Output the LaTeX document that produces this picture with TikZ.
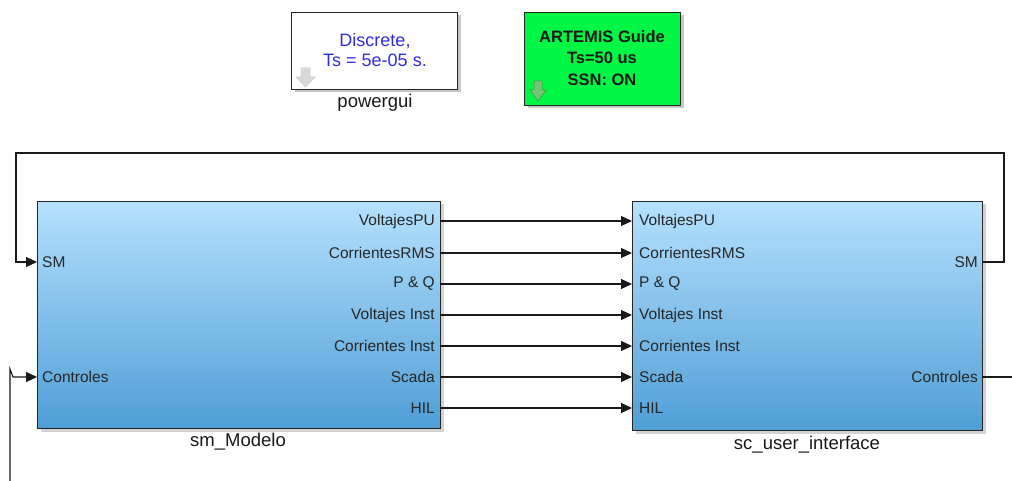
\documentclass[tikz,border=0pt]{standalone}
\usepackage{fontspec}
\setmainfont{Liberation Sans}
\usetikzlibrary{shadows,arrows.meta,calc}
\definecolor{blktop}{HTML}{B5E1FE}
\definecolor{blkbot}{HTML}{4F9ED6}
\definecolor{artgreen}{HTML}{00F745}
\definecolor{discblue}{HTML}{2E2EE6}
\tikzset{
  x=1pt, y=-1pt,
  blk/.style={draw=black!85, line width=1pt, top color=blktop, bottom color=blkbot,
    anchor=north west, inner sep=0pt,
    drop shadow={shadow xshift=3pt, shadow yshift=-3pt, opacity=0.35}},
  gui/.style={draw=black!85, line width=1pt, anchor=north west, inner sep=0pt,
    drop shadow={shadow xshift=3pt, shadow yshift=-3pt, opacity=0.45}},
  portl/.style={font=\fontsize{15.5}{17}\selectfont, text=black!85, inner sep=0pt},
  blkname/.style={font=\fontsize{18.5}{20}\selectfont, text=black!90, inner sep=0pt},
  sig/.style={line width=1.1pt, draw=black!90, -{Triangle[length=11pt,width=10pt]}},
  wire/.style={line width=1.1pt, draw=black!90},
}
\begin{document}
\begin{tikzpicture}
\useasboundingbox (0,0) rectangle (1012,481);
% powergui
\node[gui, fill=white, minimum width=166pt, minimum height=77pt] (pg) at (291,12) {};
\node[font=\fontsize{18}{20}\selectfont, text=discblue, align=center] (pgtxt) at (375,50) {Discrete,\\Ts = 5e-05 s.};
\node[blkname] (pglabel) at (375,103) {powergui};
\filldraw[draw=black!20, fill=black!15, line width=0.5pt] (301,68) -- (310,68) -- (310,77) -- (315,77) -- (305.5,87) -- (296,77) -- (301,77) -- cycle;
% ARTEMIS
\node[gui, fill=artgreen, minimum width=156pt, minimum height=93pt] (art) at (524,12) {};
\node[font=\bfseries\fontsize{16.5}{21.5}\selectfont, text=black!90, align=center] (arttxt) at (602,58) {ARTEMIS Guide\\Ts=50 us\\SSN: ON};
\filldraw[draw=green!50!black!80, fill=green!60!black!55!white, line width=0.5pt] (534,81) -- (542,81) -- (542,90) -- (546,90) -- (538,101) -- (530,90) -- (534,90) -- cycle;
% blocks
\node[blk, minimum width=403pt, minimum height=227pt] (sm) at (37,201) {};
\node[blk, minimum width=350pt, minimum height=229pt] (sc) at (632,201) {};
\node[blkname] (smname) at (238,442) {sm\_Modelo};
\node[blkname] (scname) at (807,445) {sc\_user\_interface};
% ports
\foreach \i/\y/\t in {1/221/VoltajesPU, 2/253/CorrientesRMS, 3/284/P \& Q, 4/315/Voltajes Inst, 5/346/Corrientes Inst, 6/377/Scada, 7/408/HIL}{
  \coordinate (so\i) at (440,\y);
  \coordinate (ci\i) at (632,\y);
  \node[portl, anchor=east] at (435,\y) {\t};
  \node[portl, anchor=west] at (639,\y) {\t};
  \draw[sig] (so\i) -- (ci\i);
}
\node[portl, anchor=west] at (42,262) {SM};
\node[portl, anchor=west] at (42,377) {Controles};
\node[portl, anchor=east] at (978,262) {SM};
\node[portl, anchor=east] at (978,377) {Controles};
\coordinate (smin) at (37,262);
\coordinate (ctin) at (37,377);
\coordinate (scsm) at (982,262);
\coordinate (scct) at (982,377);
\coordinate (ctend) at (1012,377);
\coordinate (ctsrc) at (10,481);
% feedback SM
\draw[sig] (scsm) -- (1004,262) -- (1004,153) -- (16,153) -- (16,262) -- (smin);
% controles
\draw[wire] (scct) -- (ctend);
\draw[sig] (ctsrc) -- (10,369) -- (13,377) -- (ctin);
\end{tikzpicture}
\end{document}
